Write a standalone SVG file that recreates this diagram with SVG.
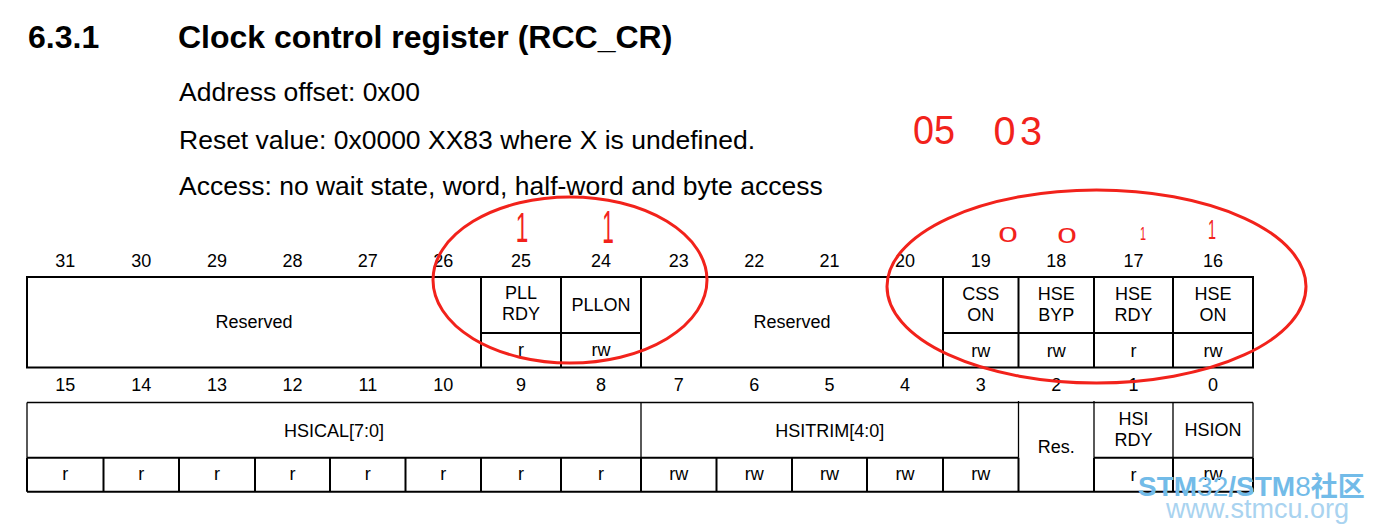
<svg xmlns="http://www.w3.org/2000/svg" width="1375" height="532" viewBox="0 0 1375 532">
<style>
  text { font-family: "Liberation Sans", Arial, sans-serif; fill: #000; }
  .h { font-size: 32px; font-weight: bold; }
  .p { font-size: 26.5px; }
  .t { font-size: 18px; text-anchor: middle; }
  .g2 { stroke: #000; stroke-width: 2; fill: none; }
  .g1 { stroke: #000; stroke-width: 1.3; fill: none; }
  .red { stroke: #f2221b; stroke-width: 3; fill: none; }
  .rt { fill: #f2221b; font-family: "Liberation Sans", Arial, sans-serif; text-anchor: middle; }
  .wm1 { font-size: 28px; font-weight: bold; fill: #72bbe8; }
  .wm2 { font-size: 27px; fill: #a9d3f0; }
</style>
<rect width="1375" height="532" fill="#fff"/>

<g id="header">
  <text class="h" x="28" y="48">6.3.1</text>
  <text class="h" x="178" y="48">Clock control register (RCC_CR)</text>
  <text class="p" x="179" y="101">Address offset: 0x00</text>
  <text class="p" x="179" y="148.5">Reset value: 0x0000 XX83 where X is undefined.</text>
  <text class="p" x="179" y="195">Access: no wait state, word, half-word and byte access</text>
</g>

<g id="bit-numbers">
  <text class="t" x="65.3" y="266.5">31</text>
  <text class="t" x="141.3" y="266.5">30</text>
  <text class="t" x="217" y="266.5">29</text>
  <text class="t" x="292.5" y="266.5">28</text>
  <text class="t" x="367.8" y="266.5">27</text>
  <text class="t" x="443.3" y="266.5">26</text>
  <text class="t" x="521" y="266.5">25</text>
  <text class="t" x="601" y="266.5">24</text>
  <text class="t" x="678.8" y="266.5">23</text>
  <text class="t" x="754.3" y="266.5">22</text>
  <text class="t" x="829.5" y="266.5">21</text>
  <text class="t" x="905" y="266.5">20</text>
  <text class="t" x="980.8" y="266.5">19</text>
  <text class="t" x="1056.3" y="266.5">18</text>
  <text class="t" x="1133.5" y="266.5">17</text>
  <text class="t" x="1213" y="266.5">16</text>
  <text class="t" x="65.3" y="390.7">15</text>
  <text class="t" x="141.3" y="390.7">14</text>
  <text class="t" x="217" y="390.7">13</text>
  <text class="t" x="292.5" y="390.7">12</text>
  <text class="t" x="367.8" y="390.7">11</text>
  <text class="t" x="443.3" y="390.7">10</text>
  <text class="t" x="521" y="390.7">9</text>
  <text class="t" x="601" y="390.7">8</text>
  <text class="t" x="678.8" y="390.7">7</text>
  <text class="t" x="754.3" y="390.7">6</text>
  <text class="t" x="829.5" y="390.7">5</text>
  <text class="t" x="905" y="390.7">4</text>
  <text class="t" x="980.8" y="390.7">3</text>
  <text class="t" x="1056.3" y="390.7">2</text>
  <text class="t" x="1133.5" y="390.7">1</text>
  <text class="t" x="1213" y="390.7">0</text>
</g>

<g id="grid-high">
  <rect class="g2" x="27" y="277" width="1226" height="90.5"/>
  <path class="g2" d="M481 277V367.5M561 277V367.5M641 277V367.5M943 277V367.5M1018.5 277V367.5M1094 277V367.5M1173 277V367.5M481 333H641M943 333H1253"/>
</g>

<g id="grid-low">
  <path class="g1" d="M27 402.5H1253M27 402.5V457.7M1253 402.5V457.7M641 402.5V457.7M1018.5 401V457.7M1094 401V457.7M1173 402.5V457.7"/>
  <path class="g2" d="M27 457.7H1018.5M1094 457.7H1253M27 491.7H1253M27 457.7V491.7M1253 457.7V491.7M103.5 457.7V491.7M179 457.7V491.7M255 457.7V491.7M330 457.7V491.7M405.5 457.7V491.7M481 457.7V491.7M561 457.7V491.7M641 457.7V491.7M716.5 457.7V491.7M792 457.7V491.7M867 457.7V491.7M943 457.7V491.7M1018.5 457.7V491.7M1094 457.7V491.7M1173 457.7V491.7"/>
</g>

<g id="field-reserved-31-26"><text class="t" x="254" y="328">Reserved</text></g>
<g id="field-pllrdy">
  <text class="t" x="521" y="299">PLL</text>
  <text class="t" x="521" y="320">RDY</text>
  <text class="t" x="521" y="356">r</text>
</g>
<g id="field-pllon">
  <text class="t" x="601" y="311">PLLON</text>
  <text class="t" x="601" y="356">rw</text>
</g>
<g id="field-reserved-23-20"><text class="t" x="792" y="328">Reserved</text></g>
<g id="field-csson">
  <text class="t" x="980.8" y="300">CSS</text>
  <text class="t" x="980.8" y="321">ON</text>
  <text class="t" x="980.8" y="357">rw</text>
</g>
<g id="field-hsebyp">
  <text class="t" x="1056.3" y="300">HSE</text>
  <text class="t" x="1056.3" y="321">BYP</text>
  <text class="t" x="1056.3" y="357">rw</text>
</g>
<g id="field-hserdy">
  <text class="t" x="1133.5" y="300">HSE</text>
  <text class="t" x="1133.5" y="321">RDY</text>
  <text class="t" x="1133.5" y="357">r</text>
</g>
<g id="field-hseon">
  <text class="t" x="1213" y="300">HSE</text>
  <text class="t" x="1213" y="321">ON</text>
  <text class="t" x="1213" y="357">rw</text>
</g>

<g id="field-hsical">
  <text class="t" x="334" y="436.7">HSICAL[7:0]</text>
  <text class="t" x="65.3" y="480">r</text>
  <text class="t" x="141.3" y="480">r</text>
  <text class="t" x="217" y="480">r</text>
  <text class="t" x="292.5" y="480">r</text>
  <text class="t" x="367.8" y="480">r</text>
  <text class="t" x="443.3" y="480">r</text>
  <text class="t" x="521" y="480">r</text>
  <text class="t" x="601" y="480">r</text>
</g>
<g id="field-hsitrim">
  <text class="t" x="829.8" y="436.7">HSITRIM[4:0]</text>
  <text class="t" x="678.8" y="480">rw</text>
  <text class="t" x="754.3" y="480">rw</text>
  <text class="t" x="829.5" y="480">rw</text>
  <text class="t" x="905" y="480">rw</text>
  <text class="t" x="980.8" y="480">rw</text>
</g>
<g id="field-res-2"><text class="t" x="1056.3" y="452.7">Res.</text></g>
<g id="field-hsirdy">
  <text class="t" x="1133.5" y="425">HSI</text>
  <text class="t" x="1133.5" y="446">RDY</text>
  <text class="t" x="1133.5" y="480.5">r</text>
</g>
<g id="field-hsion">
  <text class="t" x="1213" y="436">HSION</text>
  <text class="t" x="1213" y="480">rw</text>
</g>

<g id="annotations">
  <ellipse class="red" cx="570" cy="280" rx="137" ry="83"/>
  <ellipse class="red" cx="1096.5" cy="286.5" rx="209.5" ry="96.5"/>
  <text class="rt" transform="translate(934 144) scale(1.05 1.15)" font-size="36">05</text>
  <text class="rt" transform="translate(1020 145) scale(1.1 1.15)" font-size="36" letter-spacing="4">03</text>
  <text class="rt" transform="translate(522 242) scale(0.9 1.7)" font-size="25">1</text>
  <text class="rt" transform="translate(608 243) scale(0.8 1.8)" font-size="26">1</text>
  <text class="rt" transform="translate(1008 242) scale(1.6 1)" font-size="22">0</text>
  <text class="rt" transform="translate(1067 243) scale(1.6 1)" font-size="22">0</text>
  <text class="rt" transform="translate(1143 240) scale(0.9 1.5)" font-size="12">1</text>
  <text class="rt" transform="translate(1212 239) scale(0.9 1.75)" font-size="16">1</text>
</g>

<g id="watermark">
  <text class="wm1" x="1138" y="496">STM<tspan font-weight="normal">32</tspan>/STM<tspan font-weight="normal">8</tspan><tspan font-family="'Noto Sans CJK SC', sans-serif" font-size="27">社区</tspan></text>
  <text class="wm2" x="1166" y="518">www.stmcu.org</text>
</g>
</svg>
